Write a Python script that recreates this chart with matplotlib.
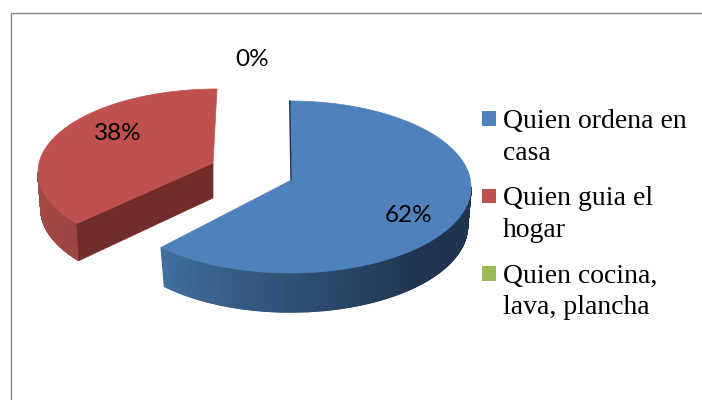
import matplotlib

matplotlib.use("Agg")
import matplotlib.pyplot as plt
import numpy as np
from matplotlib.colors import LinearSegmentedColormap
from matplotlib.patches import Polygon, Rectangle

categories = ["Quien ordena en\ncasa", "Quien guia el\nhogar", "Quien cocina,\nlava, plancha"]
values = [62, 38, 0]
colors = ["#4F81BD", "#C0504D", "#9BBB59"]

# pixel layout of each exploded slice, the chart is drawn with a fake perspective
layouts = [
    {
        "apex": (291.5, 180), "c": (290, 187), "r": (181, 86),
        "c_low": (290.5, 226), "r_low": (177, 86), "skew": (0, 2.2),
        "side": ["#41709F", "#2F5075", "#1F3550", "#1F344E"],
        "face": "#17324F", "label": (409, 215),
    },
    {
        "apex": (213, 163), "c": (217, 172), "r": (179, 83),
        "c_low": (217, 209), "r_low": (176, 83), "skew": (8.4, 0),
        "side": ["#A84B48", "#9E4542"],
        "face": "#722D2B", "apex_low": (213, 198), "label": (118, 134),
    },
]
zero_label_pos = (252, 59)


def rim(center, radius, angles):
    t = np.radians(angles)
    return center[0] + radius[0] * np.sin(t), center[1] - radius[1] * np.cos(t)


def draw_slice(ax, start, stop, color, lay):
    a0 = start + lay["skew"][0]
    a1 = stop + lay["skew"][1]

    # outer wall, only the part that faces the viewer
    cmap = LinearSegmentedColormap.from_list("side", lay["side"])
    lo, hi = max(a0, 90), min(a1, 270)
    steps = np.linspace(hi, lo, 400)
    for i in range(len(steps) - 1):
        ang = steps[i : i + 2]
        xt, yt = rim(lay["c"], lay["r"], ang)
        xb, yb = rim(lay["c_low"], lay["r_low"], ang)
        pts = np.column_stack([np.r_[xt, xb[::-1]], np.r_[yt, yb[::-1]]])
        col = cmap(i / (len(steps) - 2))
        ax.add_patch(Polygon(pts, facecolor=col, edgecolor=col, lw=1.0, zorder=2))

    # cut face
    xs, ys = rim(lay["c"], lay["r"], np.array([a0]))
    if "apex_low" in lay:
        xl, yl = rim(lay["c_low"], lay["r_low"], np.array([a0]))
        pts = [lay["apex"], (xs[0], ys[0]), (xl[0], yl[0]), lay["apex_low"]]
        ax.add_patch(Polygon(pts, facecolor=lay["face"], edgecolor=lay["face"], lw=0.5, zorder=2))
    else:
        ax.plot([xs[0] - 0.3, lay["apex"][0] - 0.5], [ys[0], lay["apex"][1]], color=lay["face"], lw=1.0, zorder=4)

    # top
    ang = np.linspace(a0, a1, 200)
    xt, yt = rim(lay["c"], lay["r"], ang)
    pts = np.column_stack([np.r_[lay["apex"][0], xt], np.r_[lay["apex"][1], yt]])
    ax.add_patch(Polygon(pts, facecolor=color, edgecolor=color, lw=0.5, zorder=3))


fig = plt.figure(figsize=(7.02, 4.0), dpi=100)
ax = fig.add_axes([0, 0, 1, 1])
ax.set_xlim(0, 702)
ax.set_ylim(400, 0)
ax.axis("off")

# chart frame runs off the right and bottom of the crop
ax.plot([10.5, 10.5, 702], [400, 13, 13], color="#868686", lw=1.0, zorder=1)

edges = np.cumsum([0] + values) / sum(values) * 360
for i, lay in reversed(list(enumerate(layouts))):
    draw_slice(ax, edges[i], edges[i + 1], colors[i], lay)

label_pos = [lay["label"] for lay in layouts] + [zero_label_pos]
for val, pos in zip(values, label_pos):
    ax.text(pos[0], pos[1], f"{val}%", family="Lato", fontsize=17.5, color="black", ha="center", va="center", zorder=5)

for i, (name, color) in enumerate(zip(categories, colors)):
    y0 = 127.5 + i * 77.5
    ax.add_patch(Rectangle((482, y0 - 16.5), 14, 14.5, facecolor=color, edgecolor="none", zorder=3))
    for j, line in enumerate(name.split("\n")):
        ax.text(503, y0 + j * 32, line, family="Liberation Serif", fontsize=20, color="black", ha="left", va="baseline", zorder=5)

fig.savefig("out.png", dpi=100)
